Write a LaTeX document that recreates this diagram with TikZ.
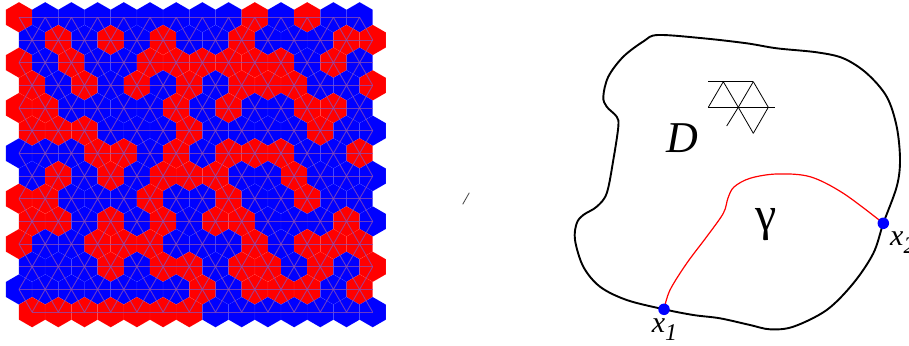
\documentclass[tikz,border=0pt]{standalone}
\usepackage{fontspec}
\newfontfamily\tnr{Liberation Serif}
\definecolor{R}{RGB}{255,0,0}
\definecolor{B}{RGB}{0,0,255}
\definecolor{latt}{RGB}{140,80,180}
\begin{document}
\begin{tikzpicture}[x=1pt,y=-1pt,
  latline/.style={draw=latt, draw opacity=0.75, line width=0.9pt},
  bnd/.style={draw=black, line width=1.9pt},
  gam/.style={draw=R, line width=1.2pt},
  dot/.style={circle, fill=B, inner sep=0pt, minimum size=11.5pt},
  lbl/.style={inner sep=0pt, font=\tnr},
  icon/.style={draw=black, line width=0.8pt}]
\useasboundingbox (0,0) rectangle (909,345);
\fill[white] (0,0) rectangle (909,345);
\def\hw{13.1}
\def\rr{15.13}
\def\dy{22.68}
% ---- hexagon cells ----
\foreach \row [count=\r] in {
 {R,B,B,B,B,B,B,B,B,R,B,R,B,B},
 {B,R,B,R,B,R,B,B,R,B,B,B,R,R},
 {R,B,R,B,B,R,R,R,R,R,R,B,R,B},
 {R,B,R,B,R,B,R,B,R,R,R,B,B,R},
 {R,R,B,B,B,B,R,B,R,B,B,R,R,B},
 {R,R,R,B,B,B,R,B,B,B,B,R,B,B},
 {B,B,B,R,R,B,R,B,R,R,R,B,B,R},
 {B,R,B,R,B,R,R,R,B,B,R,B,B,B},
 {R,R,B,B,B,R,B,B,R,B,B,R,B,B},
 {R,R,B,R,B,R,B,R,R,B,B,B,R,B},
 {R,B,B,R,R,R,B,B,B,R,B,R,R,R},
 {B,B,B,R,B,R,R,B,R,R,B,R,B,R},
 {B,B,B,B,B,B,B,R,B,R,R,R,B,R},
 {R,R,R,R,R,R,R,B,B,B,B,B,B,B}} {
  \pgfmathsetmacro\yy{17.3+\dy*(\r-1)}
  \pgfmathsetmacro\off{mod(\r+1,2)*\hw}
  \foreach \c [count=\i] in \row {
    \pgfmathsetmacro\xx{19+26.2*(\i-1)+\off}
    \filldraw[fill=\c, draw=white, draw opacity=0.1, line width=0.4pt]
      (\xx,\yy) +(90:\rr) -- +(30:\rr) -- +(-30:\rr) -- +(-90:\rr)
      -- +(-150:\rr) -- +(150:\rr) -- cycle;
  }
}
% ---- triangular lattice overlay ----
\foreach \r in {1,...,14} {
  \pgfmathsetmacro\yy{17.3+\dy*(\r-1)}
  \ifnum\r=1
    \draw[latline] (19,\yy) -- (359.6,\yy);
  \else\ifnum\r=14
    \draw[latline] (32.1,\yy) -- (372.7,\yy);
  \else
    \draw[latline] (19,\yy) -- (373,\yy);
  \fi\fi
}
\foreach \r in {1,...,13} {
  \pgfmathsetmacro\yy{17.3+\dy*(\r-1)}
  \pgfmathsetmacro\yn{17.3+\dy*\r}
  \pgfmathtruncatemacro\odd{mod(\r,2)}
  \foreach \i in {1,...,14} {
    \ifnum\odd=1
      \pgfmathsetmacro\xx{19+26.2*(\i-1)}
      \ifnum\i>1 \draw[latline] (\xx,\yy) -- (\xx-\hw,\yn); \fi
      \draw[latline] (\xx,\yy) -- (\xx+\hw,\yn);
    \else
      \pgfmathsetmacro\xx{19+26.2*(\i-1)+\hw}
      \draw[latline] (\xx,\yy) -- (\xx-\hw,\yn);
      \ifnum\i<14 \draw[latline] (\xx,\yy) -- (\xx+\hw,\yn); \fi
    \fi
  }
}
% ---- small slash ----
\coordinate (s1) at (462.7,204.3);
\coordinate (s2) at (469.3,192.7);
\draw[black!75, line width=0.8pt] (s1) -- (s2);
% ---- domain D ----
\coordinate (x1pt) at (664,309.3);
\coordinate (x2pt) at (883.3,223.3);
\draw[bnd] plot[smooth cycle, tension=0.55] coordinates {
 (658,35) (703.3,38.3) (746.7,43.3) (776.7,48.3) (816.7,52.3) (843.3,58.3)
 (866.7,73.3) (886.7,96.7) (896.7,126.7) (900,160) (896.7,186.7) (x2pt)
 (873.3,253.3) (853.3,283.3) (826.7,310) (793.3,326.7) (770,329.3) (750,325)
 (720,318.3) (693.3,315) (x1pt) (626.7,300) (600,286.7) (583.3,266.7)
 (575,240) (576.7,223.3) (583.3,215) (596.7,206.7) (606.7,193.3) (613.3,160)
 (618.3,126.7) (616.7,116.7) (606.7,106.7) (603.3,96.7) (608.3,76.7)
 (623.3,56.7) (644,41)};
% ---- curve gamma ----
\draw[gam] plot[smooth, tension=0.55] coordinates {
 (x1pt) (670,290) (686.7,263.3) (706.7,236.7) (723.3,213.3) (728,198)
 (734,187) (750,178.3) (776.7,174) (810,176.7) (843.3,193.3) (x2pt)};
\node[dot] (p1) at (x1pt) {};
\node[dot] (p2) at (x2pt) {};
% ---- lattice icon ----
\coordinate (ta) at (723.3,81.7);
\coordinate (tb) at (753.3,81.7);
\coordinate (tl) at (708.3,81.7);
\coordinate (mc) at (708.3,107.3);
\coordinate (md) at (738.3,107.3);
\coordinate (me) at (768.3,107.3);
\coordinate (mr) at (775,107.3);
\coordinate (bf) at (753.3,133.3);
\coordinate (bg) at (726.7,126);
\draw[icon] (tl) -- (tb);
\draw[icon] (mc) -- (mr);
\draw[icon] (mc) -- (ta) -- (md) -- (bf);
\draw[icon] (tb) -- (md) -- (bg);
\draw[icon] (tb) -- (me) -- (bf);
% ---- labels ----
\node[lbl] (D) at (682.5,138) {\fontsize{44}{44}\selectfont\itshape D};
\node[lbl] (g) at (766,225) {\fontsize{48}{48}\selectfont γ};
\node[lbl, anchor=base west] (x1l) at (651.7,332.5)
  {\fontsize{30}{30}\selectfont\itshape x\raisebox{-8pt}{\fontsize{24}{24}\selectfont 1}};
\node[lbl, anchor=base west] (x2l) at (890,245)
  {\fontsize{30}{30}\selectfont\itshape x\raisebox{-8.4pt}{\fontsize{24}{24}\selectfont 2}};
\end{tikzpicture}
\end{document}
